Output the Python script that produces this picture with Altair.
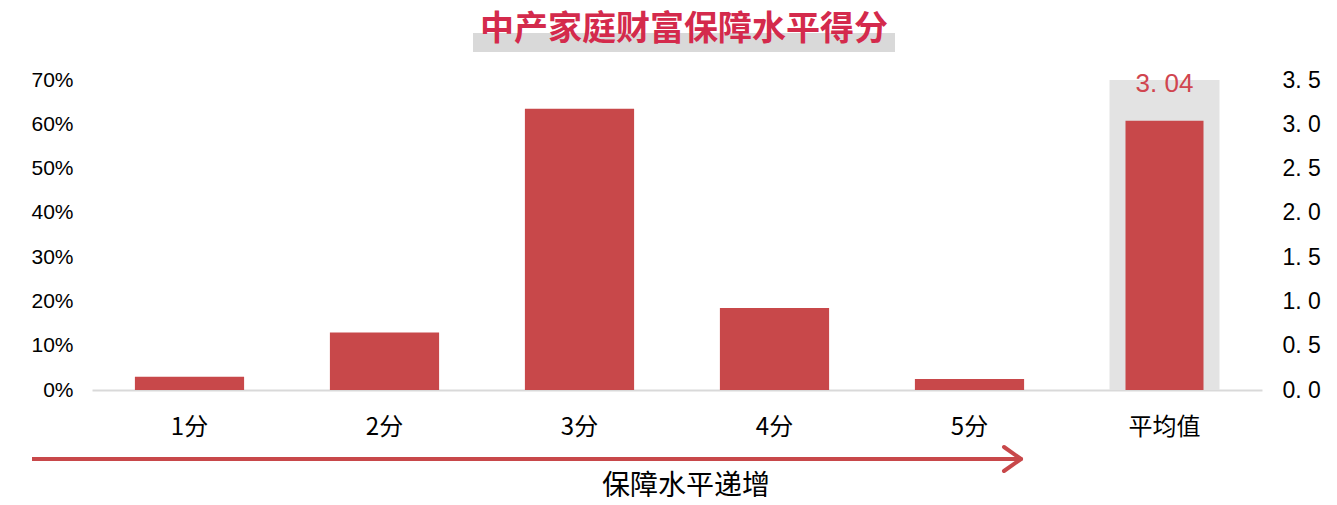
import altair as alt
import pandas as pd

# ---- data ----
categories = ["1分", "2分", "3分", "4分", "5分"]
shares = [0.030, 0.130, 0.635, 0.185, 0.025]
avg_label = "平均值"
avg_score = [3.04]
score_max = [3.5]
all_cats = categories + [avg_label]
left_ticks = [0, 0.1, 0.2, 0.3, 0.4, 0.5, 0.6, 0.7]
right_ticks = [0, 0.5, 1.0, 1.5, 2.0, 2.5, 3.0, 3.5]
title_text = "中产家庭财富保障水平得分"
arrow_text = "保障水平递增"

BAR = "#c8484a"
CJK = "Noto Sans CJK SC"
W, H = 1170, 310
OX, OY = 92, 80  # plot origin on the page

df_share = pd.DataFrame({"cat": categories, "share": shares})
df_avg = pd.DataFrame({"cat": [avg_label], "score": avg_score, "bg": score_max})

xscale = alt.Scale(domain=all_cats, paddingInner=0.44, paddingOuter=0.22)
xaxis = alt.Axis(title=None, labelFontSize=24, labelColor="#000", labelPadding=25,
                 domainColor="#d9d9d9", domainWidth=2, ticks=False, labelAngle=0,
                 labelFont=CJK)
X = alt.X("cat:N", scale=xscale, axis=xaxis)

bars = alt.Chart(df_share).mark_bar(color=BAR).encode(
    x=X,
    y=alt.Y("share:Q", scale=alt.Scale(domain=[0, 0.7]),
            axis=alt.Axis(format=".0%", values=left_ticks, title=None, grid=False,
                          domain=False, ticks=False, labelFontSize=21, labelPadding=19,
                          labelFont="Liberation Sans", labelColor="#000")),
)

yright = alt.Scale(domain=[0, 3.5])
grey = alt.Chart(df_avg).mark_bar(color="#e3e3e3", width=110).encode(
    x=X,
    y=alt.Y("bg:Q", scale=yright,
            axis=alt.Axis(orient="right", values=right_ticks, title=None, grid=False,
                          domain=False, ticks=False, labelFontSize=23, labelPadding=20,
                          labelFont="Liberation Sans", labelColor="#000",
                          labelExpr="replace(format(datum.value, '.1f'), '.', '. ')")),
)
avgbar = alt.Chart(df_avg).mark_bar(color=BAR, width=78).encode(
    x=X, y=alt.Y("score:Q", scale=yright)
)
avgtext = alt.Chart(df_avg).transform_calculate(
    label="replace(format(datum.score, '.2f'), '.', '. ')"
).mark_text(color="#d0454f", fontSize=26, font="Liberation Sans", baseline="middle", dy=-37).encode(
    x=X, y=alt.Y("score:Q", scale=yright), text="label:N"
)
right = alt.layer(grey, avgbar, avgtext)

one = alt.Data(values=[{}])
title_bg = alt.Chart(one).mark_rect(color="#d9d9d9").encode(
    x=alt.value(473 - OX), x2=alt.value(895 - OX), y=alt.value(33 - OY), y2=alt.value(52 - OY)
)
title = alt.Chart(one).mark_text(text=title_text, fontSize=34, fontWeight="bold",
                                 color="#d42a4c", font=CJK, baseline="middle").encode(
    x=alt.value(684 - OX), y=alt.value(30 - OY)
)
arrow_line = alt.Chart(one).mark_rule(color=BAR, strokeWidth=4).encode(
    x=alt.value(32 - OX), x2=alt.value(1019 - OX), y=alt.value(459 - OY)
)
arrow_h1 = alt.Chart(one).mark_rule(color=BAR, strokeWidth=4, strokeCap="round").encode(
    x=alt.value(1004 - OX), x2=alt.value(1021 - OX), y=alt.value(447 - OY), y2=alt.value(459 - OY)
)
arrow_h2 = alt.Chart(one).mark_rule(color=BAR, strokeWidth=4, strokeCap="round").encode(
    x=alt.value(1004 - OX), x2=alt.value(1021 - OX), y=alt.value(471 - OY), y2=alt.value(459 - OY)
)
arrow_lbl = alt.Chart(one).mark_text(text=arrow_text, fontSize=28, color="#000",
                                     font=CJK, baseline="middle").encode(
    x=alt.value(686 - OX), y=alt.value(487 - OY)
)

chart = alt.layer(
    bars, right, title_bg, title, arrow_line, arrow_h1, arrow_h2, arrow_lbl
).resolve_scale(y="independent").properties(
    width=W, height=H,
    autosize=alt.AutoSizeParams(type="none"),
    padding={"left": OX - 8, "top": OY - 8, "right": 60, "bottom": 107},
    background="white",
).configure_view(stroke=None)

chart.save("out.html", embed_options={"renderer": "svg", "actions": False})
